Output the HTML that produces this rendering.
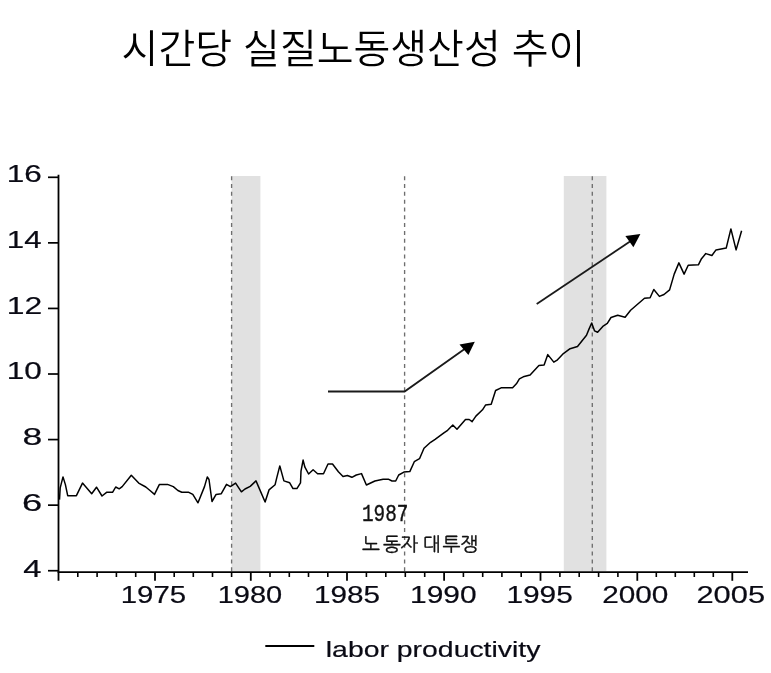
<!DOCTYPE html>
<html lang="ko"><head><meta charset="utf-8"><title>시간당 실질노동생산성 추이</title>
<style>
html,body{margin:0;padding:0;background:#fff;}
body{width:771px;height:673px;overflow:hidden;position:relative;}
svg{position:absolute;left:0;top:0;display:block}
.ax{font-family:"Liberation Sans",sans-serif;fill:#0a0a14;stroke:#0a0a14;stroke-width:0.2px;}
.ttl{font-family:"Liberation Sans","Noto Sans CJK KR","NanumGothic",sans-serif;fill:#000;}
.ann{font-family:"Liberation Mono","NanumGothic","Noto Sans CJK KR",monospace;fill:#111;stroke:#111;stroke-width:0.35px;}
</style></head><body>
<svg width="771" height="673" viewBox="0 0 771 673">

<rect x="231.6" y="176" width="28.8" height="395" fill="#e1e1e1"/>
<rect x="563.8" y="176" width="42.6" height="395" fill="#e1e1e1"/>
<line x1="231.6" y1="176.2" x2="231.6" y2="571.4" stroke="#6e6e6e" stroke-width="1.35" stroke-dasharray="4 3.82"/>
<line x1="404.6" y1="176.2" x2="404.6" y2="571.4" stroke="#6e6e6e" stroke-width="1.35" stroke-dasharray="4 3.82"/>
<line x1="592.3" y1="176.2" x2="592.3" y2="571.4" stroke="#6e6e6e" stroke-width="1.35" stroke-dasharray="4 3.82"/>
<line x1="58.5" y1="174.8" x2="58.5" y2="580.8" stroke="#000" stroke-width="1.8"/>
<line x1="57.6" y1="572.2" x2="748" y2="572.2" stroke="#000" stroke-width="1.8"/>
<line x1="48" y1="177.3" x2="59" y2="177.3" stroke="#000" stroke-width="1.7"/>
<line x1="48" y1="242.87" x2="59" y2="242.87" stroke="#000" stroke-width="1.7"/>
<line x1="48" y1="308.44" x2="59" y2="308.44" stroke="#000" stroke-width="1.7"/>
<line x1="48" y1="374.01" x2="59" y2="374.01" stroke="#000" stroke-width="1.7"/>
<line x1="48" y1="439.58" x2="59" y2="439.58" stroke="#000" stroke-width="1.7"/>
<line x1="48" y1="505.15" x2="59" y2="505.15" stroke="#000" stroke-width="1.7"/>
<line x1="48" y1="570.72" x2="59" y2="570.72" stroke="#000" stroke-width="1.7"/>
<line x1="77.8" y1="572" x2="77.8" y2="577" stroke="#000" stroke-width="1.6"/>
<line x1="97.1" y1="572" x2="97.1" y2="577" stroke="#000" stroke-width="1.6"/>
<line x1="116.4" y1="572" x2="116.4" y2="577" stroke="#000" stroke-width="1.6"/>
<line x1="135.7" y1="572" x2="135.7" y2="577" stroke="#000" stroke-width="1.6"/>
<line x1="155.0" y1="572" x2="155.0" y2="580.8" stroke="#000" stroke-width="1.8"/>
<line x1="174.2" y1="572" x2="174.2" y2="577" stroke="#000" stroke-width="1.6"/>
<line x1="193.3" y1="572" x2="193.3" y2="577" stroke="#000" stroke-width="1.6"/>
<line x1="212.5" y1="572" x2="212.5" y2="577" stroke="#000" stroke-width="1.6"/>
<line x1="231.6" y1="572" x2="231.6" y2="577" stroke="#000" stroke-width="1.6"/>
<line x1="250.8" y1="572" x2="250.8" y2="580.8" stroke="#000" stroke-width="1.8"/>
<line x1="270.0" y1="572" x2="270.0" y2="577" stroke="#000" stroke-width="1.6"/>
<line x1="289.3" y1="572" x2="289.3" y2="577" stroke="#000" stroke-width="1.6"/>
<line x1="308.5" y1="572" x2="308.5" y2="577" stroke="#000" stroke-width="1.6"/>
<line x1="327.8" y1="572" x2="327.8" y2="577" stroke="#000" stroke-width="1.6"/>
<line x1="347.0" y1="572" x2="347.0" y2="580.8" stroke="#000" stroke-width="1.8"/>
<line x1="366.4" y1="572" x2="366.4" y2="577" stroke="#000" stroke-width="1.6"/>
<line x1="385.8" y1="572" x2="385.8" y2="577" stroke="#000" stroke-width="1.6"/>
<line x1="405.3" y1="572" x2="405.3" y2="577" stroke="#000" stroke-width="1.6"/>
<line x1="424.7" y1="572" x2="424.7" y2="577" stroke="#000" stroke-width="1.6"/>
<line x1="444.1" y1="572" x2="444.1" y2="580.8" stroke="#000" stroke-width="1.8"/>
<line x1="463.4" y1="572" x2="463.4" y2="577" stroke="#000" stroke-width="1.6"/>
<line x1="482.7" y1="572" x2="482.7" y2="577" stroke="#000" stroke-width="1.6"/>
<line x1="501.9" y1="572" x2="501.9" y2="577" stroke="#000" stroke-width="1.6"/>
<line x1="521.2" y1="572" x2="521.2" y2="577" stroke="#000" stroke-width="1.6"/>
<line x1="540.5" y1="572" x2="540.5" y2="580.8" stroke="#000" stroke-width="1.8"/>
<line x1="559.9" y1="572" x2="559.9" y2="577" stroke="#000" stroke-width="1.6"/>
<line x1="579.2" y1="572" x2="579.2" y2="577" stroke="#000" stroke-width="1.6"/>
<line x1="598.6" y1="572" x2="598.6" y2="577" stroke="#000" stroke-width="1.6"/>
<line x1="617.9" y1="572" x2="617.9" y2="577" stroke="#000" stroke-width="1.6"/>
<line x1="637.3" y1="572" x2="637.3" y2="580.8" stroke="#000" stroke-width="1.8"/>
<line x1="656.3" y1="572" x2="656.3" y2="577" stroke="#000" stroke-width="1.6"/>
<line x1="675.3" y1="572" x2="675.3" y2="577" stroke="#000" stroke-width="1.6"/>
<line x1="694.3" y1="572" x2="694.3" y2="577" stroke="#000" stroke-width="1.6"/>
<line x1="713.3" y1="572" x2="713.3" y2="577" stroke="#000" stroke-width="1.6"/>
<line x1="732.3" y1="572" x2="732.3" y2="580.8" stroke="#000" stroke-width="1.8"/>
<text class="ax" transform="translate(6.78,181.80) scale(1.313,1)" font-size="24.0">16</text>
<text class="ax" transform="translate(6.80,247.65) scale(1.300,1)" font-size="24.0">14</text>
<text class="ax" transform="translate(6.75,313.50) scale(1.327,1)" font-size="24.0">12</text>
<text class="ax" transform="translate(6.78,379.35) scale(1.313,1)" font-size="24.0">10</text>
<text class="ax" transform="translate(22.38,445.20) scale(1.480,1)" font-size="24.0">8</text>
<text class="ax" transform="translate(21.98,511.05) scale(1.513,1)" font-size="24.0">6</text>
<text class="ax" transform="translate(23.15,576.90) scale(1.364,1)" font-size="24.0">4</text>
<text class="ax" transform="translate(120.75,603.10) scale(1.226,1)" font-size="24.0">1975</text>
<text class="ax" transform="translate(217.68,603.10) scale(1.210,1)" font-size="24.0">1980</text>
<text class="ax" transform="translate(313.93,603.10) scale(1.236,1)" font-size="24.0">1985</text>
<text class="ax" transform="translate(410.01,603.10) scale(1.246,1)" font-size="24.0">1990</text>
<text class="ax" transform="translate(506.41,603.10) scale(1.244,1)" font-size="24.0">1995</text>
<text class="ax" transform="translate(602.21,603.10) scale(1.240,1)" font-size="24.0">2000</text>
<text class="ax" transform="translate(696.46,603.10) scale(1.285,1)" font-size="24.0">2005</text>
<polyline points="59.5,499.6 60.2,487.9 63.0,476.9 65.4,484.6 67.7,495.7 76.4,495.7 82.5,483.1 91.7,493.7 96.5,487.2 102.0,496.0 106.9,492.2 112.7,492.2 115.7,487.0 119.2,488.8 122.2,486.6 131.3,475.3 138.7,483.1 145.8,487.0 150.0,490.5 154.5,494.4 159.3,484.6 167.5,484.4 173.3,486.6 177.9,490.5 181.8,492.2 188.3,492.2 192.8,494.4 198.0,502.8 204.5,486.6 207.3,476.9 209.0,479.5 212.0,501.5 216.1,494.4 221.3,493.7 226.5,484.4 230.4,486.6 235.6,483.1 241.4,491.8 245.0,489.0 250.2,486.4 256.0,480.9 265.1,502.0 269.0,489.9 275.1,484.7 276.8,477.6 279.8,465.9 283.9,480.9 289.7,482.8 293.0,488.6 296.9,488.6 300.5,482.8 301.0,471.1 303.1,460.1 304.9,467.2 308.6,474.0 313.1,469.8 317.6,473.7 323.5,473.7 328.0,464.0 332.5,464.0 338.4,471.8 343.0,476.5 347.4,475.5 351.9,477.3 356.3,475.0 361.5,473.6 366.4,485.0 374.9,481.0 383.1,479.2 388.3,479.2 392.0,481.0 395.7,481.0 398.7,475.0 403.9,472.1 409.8,471.6 414.3,461.7 419.5,458.7 424.0,448.3 430.6,442.3 435.1,439.4 443.9,432.9 447.6,430.3 452.8,425.0 457.0,429.2 465.5,419.5 469.2,419.5 472.1,421.7 475.9,416.1 482.5,409.8 485.5,405.1 491.2,404.2 495.6,390.5 501.1,387.8 512.6,387.8 516.4,383.8 519.4,378.9 524.2,376.4 530.1,374.9 538.9,365.5 544.1,365.0 547.8,354.6 553.8,362.1 557.5,359.8 563.4,353.6 570.1,348.7 577.5,346.5 586.5,335.3 589.1,328.9 591.7,323.0 594.6,330.9 597.6,332.3 602.8,326.4 607.3,323.4 611.0,317.5 617.7,315.3 625.1,317.2 630.6,310.3 644.5,298.2 650.1,297.7 653.8,289.5 659.4,296.4 664.0,294.5 669.6,289.9 674.2,274.1 678.9,262.9 684.1,274.1 688.2,265.3 698.4,264.8 701.5,258.7 705.8,253.6 711.9,255.5 716.0,249.9 726.2,248.1 730.9,228.9 736.1,249.9 741.6,230.8" fill="none" stroke="#000" stroke-width="1.5" stroke-linejoin="round"/>
<polyline points="328,391.5 404.6,391.5 466,348" fill="none" stroke="#1a1a1a" stroke-width="1.8"/>
<polygon points="474.8,341.8 459.5,344.5 468.4,354.9" fill="#000"/>
<line x1="536.7" y1="304.1" x2="630" y2="241.5" stroke="#1a1a1a" stroke-width="1.8"/>
<polygon points="640.4,234.1 625.4,235.9 633.4,247.2" fill="#000"/>
<text class="ann" x="362" y="521.3" font-size="23" textLength="46.5" lengthAdjust="spacingAndGlyphs">1987</text>
<text class="ann" x="361.7 382.7 400 417 422.8 442.2 460.3" y="551.3" font-size="19.2">노동자 대투쟁</text>
<line x1="265.3" y1="646" x2="314.3" y2="646" stroke="#000" stroke-width="1.9"/>
<text class="ax" x="325.8" y="656.8" font-size="22.6" textLength="214.6" lengthAdjust="spacingAndGlyphs">labor productivity</text>
<text class="ttl" x="121.6" y="62.9" font-size="39.6" font-weight="350" textLength="463.8" lengthAdjust="spacingAndGlyphs">시간당 실질노동생산성 추이</text>
</svg></body></html>
